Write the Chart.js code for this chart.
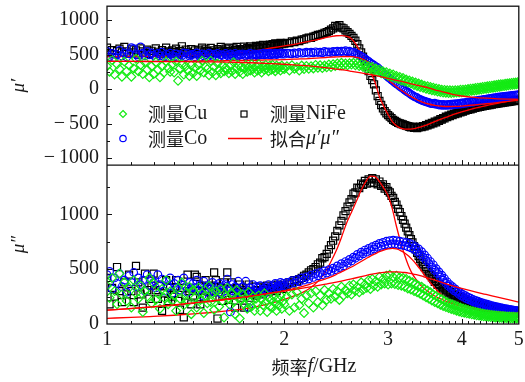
<!DOCTYPE html>
<html>
<head>
<meta charset="utf-8">
<script src="https://cdn.jsdelivr.net/npm/chart.js@4.4.0/dist/chart.umd.min.js"></script>
<style>
  html, body { margin: 0; padding: 0; background: #fff; }
  #caixa { position: relative; width: 525px; height: 382px; }
</style>
</head>
<body>
<div id="caixa"><canvas id="grafico" width="525" height="382"></canvas></div>
<script>
'use strict';

// frequencias medidas (GHz)
const frequencia = [
  1.00, 1.01, 1.02, 1.03, 1.04, 1.05, 1.06, 1.07, 1.08, 1.09,
  1.10, 1.11, 1.12, 1.13, 1.14, 1.15, 1.16, 1.17, 1.18, 1.19,
  1.20, 1.21, 1.22, 1.23, 1.24, 1.25, 1.26, 1.27, 1.28, 1.29,
  1.30, 1.31, 1.32, 1.33, 1.34, 1.35, 1.36, 1.37, 1.38, 1.39,
  1.40, 1.41, 1.42, 1.43, 1.44, 1.45, 1.46, 1.47, 1.48, 1.49,
  1.50, 1.51, 1.52, 1.53, 1.54, 1.55, 1.56, 1.57, 1.58, 1.59,
  1.60, 1.61, 1.62, 1.63, 1.64, 1.65, 1.66, 1.67, 1.68, 1.69,
  1.70, 1.71, 1.72, 1.73, 1.74, 1.75, 1.76, 1.77, 1.78, 1.79,
  1.80, 1.81, 1.82, 1.83, 1.84, 1.85, 1.86, 1.87, 1.88, 1.89,
  1.90, 1.91, 1.92, 1.93, 1.94, 1.95, 1.96, 1.97, 1.98, 1.99,
  2.00, 2.02, 2.04, 2.06, 2.08, 2.10, 2.12, 2.14, 2.16, 2.18,
  2.20, 2.22, 2.24, 2.26, 2.28, 2.30, 2.32, 2.34, 2.36, 2.38,
  2.40, 2.42, 2.44, 2.46, 2.48, 2.50, 2.52, 2.54, 2.56, 2.58,
  2.60, 2.62, 2.64, 2.66, 2.68, 2.70, 2.72, 2.74, 2.76, 2.78,
  2.80, 2.82, 2.84, 2.86, 2.88, 2.90, 2.92, 2.94, 2.96, 2.98,
  3.00, 3.02, 3.04, 3.06, 3.08, 3.10, 3.12, 3.14, 3.16, 3.18,
  3.20, 3.22, 3.24, 3.26, 3.28, 3.30, 3.32, 3.34, 3.36, 3.38,
  3.40, 3.42, 3.44, 3.46, 3.48, 3.50, 3.52, 3.54, 3.56, 3.58,
  3.60, 3.62, 3.64, 3.66, 3.68, 3.70, 3.72, 3.74, 3.76, 3.78,
  3.80, 3.82, 3.84, 3.86, 3.88, 3.90, 3.92, 3.94, 3.96, 3.98,
  4.00, 4.02, 4.04, 4.06, 4.08, 4.10, 4.12, 4.14, 4.16, 4.18,
  4.20, 4.22, 4.24, 4.26, 4.28, 4.30, 4.32, 4.34, 4.36, 4.38,
  4.40, 4.42, 4.44, 4.46, 4.48, 4.50, 4.52, 4.54, 4.56, 4.58,
  4.60, 4.62, 4.64, 4.66, 4.68, 4.70, 4.72, 4.74, 4.76, 4.78,
  4.80, 4.82, 4.84, 4.86, 4.88, 4.90, 4.92, 4.94, 4.96, 4.98,
  5.00
];

// mu' medido
const niFeReal = [
  600, 520, 565, 505, 550, 585, 530, 610, 545, 515,
  575, 530, 560, 500, 590, 545, 525, 570, 510, 555,
  520, 590, 540, 505, 565, 530, 600, 545, 515, 560,
  535, 585, 515, 550, 620, 525, 570, 540, 505, 580,
  525, 560, 505, 570, 545, 600, 530, 575, 550, 520,
  595, 535, 560, 520, 580, 545, 610, 560, 530, 585,
  550, 600, 555, 530, 590, 565, 610, 545, 580, 560,
  575, 615, 560, 595, 580, 620, 570, 600, 585, 625,
  610, 585, 630, 600, 640, 615, 595, 635, 620, 645,
  625, 650, 630, 660, 640, 655, 635, 670, 650, 665,
  660, 670, 665, 690, 680, 700, 695, 715, 720, 735,
  745, 740, 760, 770, 785, 790, 800, 815, 825, 840,
  860, 880, 915, 905, 925, 890, 880, 850, 825, 800,
  770, 740, 700, 650, 590, 530, 470, 400, 330, 260,
  190, 130, 70, -20, -100, -170, -230, -280, -320, -350,
  -375, -400, -420, -445, -460, -475, -488, -495, -505, -512,
  -520, -530, -535, -545, -555, -545, -560, -550, -565, -555,
  -545, -550, -535, -540, -520, -525, -505, -510, -490, -495,
  -470, -480, -455, -460, -435, -440, -420, -425, -400, -405,
  -385, -390, -370, -375, -355, -362, -342, -350, -330, -338,
  -318, -325, -305, -312, -295, -302, -285, -292, -276, -282,
  -266, -272, -258, -264, -250, -256, -244, -250, -238, -244,
  -230, -236, -224, -230, -218, -224, -212, -218, -207, -213,
  -202, -207, -197, -202, -192, -197, -187, -192, -183, -188,
  -178, -183, -174, -179, -170, -175, -166, -171, -162, -167,
  -160
];
const coReal = [
  545, 470, 515, 455, 500, 560, 480, 525, 465, 510,
  600, 585, 500, 470, 610, 520, 480, 545, 495, 525,
  490, 455, 515, 480, 535, 470, 505, 460, 520, 485,
  470, 510, 460, 500, 485, 525, 470, 515, 480, 495,
  505, 470, 525, 490, 460, 510, 480, 500, 470, 520,
  500, 475, 505, 480, 515, 470, 500, 490, 465, 515,
  490, 475, 510, 485, 470, 515, 490, 480, 505, 495,
  510, 490, 480, 505, 495, 520, 485, 500, 510, 495,
  480, 510, 495, 500, 520, 495, 505, 515, 500, 520,
  495, 510, 505, 520, 500, 515, 510, 525, 505, 520,
  505, 520, 515, 510, 525, 515, 530, 520, 525, 535,
  520, 535, 525, 540, 530, 535, 525, 545, 535, 540,
  530, 545, 540, 550, 535, 550, 545, 555, 540, 550,
  530, 535, 515, 505, 490, 475, 460, 440, 420, 400,
  380, 360, 345, 325, 310, 285, 260, 240, 220, 195,
  175, 155, 135, 115, 95, 75, 60, 40, 25, 5,
  -10, -30, -45, -60, -75, -90, -105, -115, -125, -140,
  -150, -160, -170, -175, -185, -190, -195, -205, -210, -212,
  -205, -222, -215, -230, -220, -235, -222, -236, -224, -234,
  -222, -232, -218, -230, -214, -226, -210, -222, -206, -216,
  -200, -212, -196, -206, -190, -200, -184, -194, -178, -188,
  -172, -182, -166, -176, -160, -170, -155, -164, -150, -158,
  -144, -152, -138, -147, -133, -141, -128, -136, -123, -131,
  -118, -126, -113, -121, -109, -117, -105, -112, -101, -108,
  -97, -104, -93, -100, -90, -96, -86, -93, -83, -89,
  -80
];
const cuReal = [
  330, 250, 420, 210, 360, 290, 180, 400, 260, 340,
  180, 300, 440, 260, 350, 220, 390, 280, 170, 330,
  220, 390, 280, 170, 330, 240, 400, 310, 250, 360,
  240, 400, 120, 300, 360, 210, 330, 270, 190, 350,
  230, 310, 190, 350, 270, 410, 240, 320, 290, 200,
  410, 240, 320, 200, 370, 280, 230, 340, 260, 310,
  280, 230, 340, 260, 390, 220, 300, 350, 250, 320,
  220, 300, 350, 250, 320, 270, 360, 290, 240, 330,
  270, 360, 290, 240, 330, 280, 350, 300, 260, 340,
  280, 350, 300, 260, 340, 290, 320, 270, 340, 300,
  290, 330, 270, 345, 295, 320, 270, 340, 290, 335,
  295, 330, 300, 350, 310, 345, 305, 340, 315, 355,
  320, 360, 335, 370, 345, 380, 350, 370, 345, 375,
  355, 380, 345, 375, 335, 365, 320, 350, 300, 330,
  290, 320, 270, 300, 250, 280, 230, 260, 215, 245,
  195, 225, 180, 210, 160, 190, 145, 175, 125, 160,
  110, 140, 95, 125, 80, 110, 60, 95, 45, 80,
  30, 65, 20, 50, 5, 40, -5, 30, -15, 20,
  -25, 10, -35, 0, -42, -8, -48, -12, -52, -15,
  -55, -18, -55, -20, -52, -18, -50, -15, -48, -10,
  -45, -8, -40, -5, -35, 0, -30, 5, -25, 10,
  -20, 15, -15, 20, -10, 25, -5, 30, 0, 35,
  5, 40, 10, 45, 15, 50, 20, 55, 25, 60,
  30, 65, 35, 70, 40, 72, 45, 76, 50, 80,
  54, 84, 58, 88, 62, 92, 66, 95, 70, 98,
  75
];

// mu'' medido
const niFeImag = [
  420, 180, 330, 250, 520, 300, 200, 380, 270, 450,
  300, 200, 530, 380, 270, 150, 460, 310, 230, 350,
  460, 310, 230, 350, 120, 280, 400, 210, 330, 250,
  280, 400, 210, 130, 330, 60, 260, 450, 300, 180,
  260, 450, 430, 300, 180, 350, 240, 400, 320, 290,
  350, 240, 470, 400, 50, 290, 330, 210, 380, 260,
  470, 220, 320, 380, 260, 150, 330, 290, 360, 240,
  310, 150, 330, 290, 360, 240, 280, 340, 300, 260,
  310, 280, 340, 300, 270, 330, 310, 350, 290, 320,
  330, 310, 350, 320, 300, 360, 330, 340, 350, 320,
  340, 360, 380, 370, 400, 390, 410, 420, 440, 450,
  470, 490, 500, 520, 545, 560, 600, 610, 640, 680,
  720, 760, 800, 850, 900, 940, 990, 1030, 1070, 1110,
  1140, 1190, 1200, 1245, 1240, 1280, 1270, 1305, 1280, 1320,
  1290, 1330, 1285, 1320, 1275, 1300, 1260, 1275, 1235, 1250,
  1215, 1200, 1170, 1150, 1115, 1090, 1050, 1020, 985, 950,
  915, 880, 845, 810, 775, 745, 710, 680, 650, 620,
  595, 570, 545, 520, 500, 480, 460, 445, 425, 410,
  385, 392, 358, 365, 335, 344, 315, 325, 297, 308,
  280, 292, 266, 278, 252, 265, 240, 254, 228, 243,
  218, 234, 208, 224, 200, 215, 191, 208, 184, 200,
  176, 193, 170, 186, 163, 180, 157, 174, 151, 168,
  146, 163, 141, 158, 136, 153, 131, 149, 127, 145,
  123, 141, 119, 137, 115, 134, 112, 131, 109, 128,
  106, 125, 103, 122, 100, 120, 98, 117, 96, 114,
  100
];
const coImag = [
  450, 480, 320, 420, 370, 460, 340, 400, 290, 440,
  380, 470, 340, 420, 360, 400, 300, 450, 350, 410,
  380, 330, 450, 360, 410, 300, 390, 350, 420, 280,
  370, 330, 400, 310, 360, 420, 340, 290, 380, 330,
  370, 330, 400, 310, 360, 260, 390, 320, 350, 290,
  330, 380, 290, 350, 310, 370, 280, 340, 300, 360,
  410, 330, 110, 360, 300, 340, 280, 390, 310, 270,
  340, 280, 390, 310, 150, 330, 290, 360, 300, 340,
  330, 290, 350, 300, 320, 280, 340, 310, 360, 330,
  310, 350, 320, 370, 330, 350, 340, 380, 350, 370,
  350, 380, 365, 395, 375, 405, 385, 420, 400, 430,
  410, 445, 425, 460, 440, 470, 450, 485, 465, 495,
  480, 510, 495, 530, 515, 550, 530, 570, 555, 590,
  575, 610, 600, 635, 620, 655, 640, 675, 655, 690,
  670, 705, 685, 720, 700, 735, 710, 745, 720, 755,
  725, 760, 730, 765, 730, 760, 725, 755, 720, 750,
  715, 745, 705, 735, 695, 725, 680, 705, 660, 685,
  635, 660, 610, 630, 580, 600, 550, 570, 520, 540,
  490, 505, 460, 475, 430, 445, 400, 415, 370, 385,
  345, 360, 325, 340, 305, 320, 290, 300, 270, 285,
  255, 270, 242, 258, 230, 246, 220, 235, 210, 225,
  200, 216, 192, 208, 185, 200, 178, 193, 172, 186,
  165, 180, 160, 174, 154, 168, 149, 163, 144, 158,
  140, 153, 136, 149, 132, 145, 128, 141, 124, 137,
  121, 133, 118, 130, 115, 127, 112, 124, 110, 121,
  110
];
const cuImag = [
  350, 240, 420, 300, 180, 460, 270, 380, 210, 330,
  150, 400, 280, 230, 350, 110, 300, 250, 420, 190,
  370, 220, 280, 140, 320, 240, 400, 180, 300, 210,
  260, 120, 330, 230, 380, 170, 280, 200, 340, 90,
  310, 240, 150, 330, 220, 280, 100, 260, 190, 350,
  200, 280, 130, 300, 240, 160, 320, 210, 60, 250,
  330, 230, 170, 280, 200, 90, 310, 240, 50, 220,
  270, 180, 240, 140, 290, 200, 160, 250, 120, 230,
  180, 260, 120, 230, 170, 280, 200, 110, 240, 160,
  220, 150, 250, 190, 120, 230, 170, 260, 140, 210,
  180, 250, 120, 270, 150, 290, 170, 230, 100, 260,
  190, 280, 150, 300, 200, 260, 170, 310, 220, 280,
  230, 320, 250, 300, 220, 340, 260, 310, 280, 350,
  270, 360, 300, 340, 290, 380, 310, 360, 330, 400,
  320, 410, 350, 390, 340, 430, 360, 410, 370, 440,
  360, 450, 370, 430, 365, 440, 355, 425, 350, 420,
  340, 410, 325, 395, 315, 380, 300, 365, 290, 350,
  275, 340, 260, 320, 245, 305, 230, 290, 215, 270,
  200, 255, 190, 240, 175, 225, 165, 210, 155, 198,
  145, 188, 138, 178, 130, 168, 122, 160, 115, 150,
  108, 142, 103, 135, 98, 128, 93, 122, 88, 116,
  84, 110, 80, 105, 77, 100, 74, 96, 71, 92,
  68, 88, 66, 85, 64, 82, 62, 80, 60, 78,
  58, 76, 57, 74, 56, 72, 55, 70, 54, 69,
  53, 68, 52, 67, 52, 66, 51, 65, 51, 64,
  58
];

// curvas de ajuste
const frequenciaAjuste = [
  1.0, 1.1, 1.2, 1.3, 1.4, 1.5, 1.6, 1.7, 1.8, 1.9,
  2.0, 2.1, 2.2, 2.3, 2.35, 2.4, 2.45, 2.5, 2.55, 2.6,
  2.65, 2.7, 2.75, 2.8, 2.85, 2.9, 2.95, 3.0, 3.05, 3.1,
  3.15, 3.2, 3.25, 3.3, 3.35, 3.4, 3.45, 3.5, 3.6, 3.7,
  3.8, 3.9, 4.0, 4.2, 4.4, 4.6, 4.8, 5.0
];
const ajusteNiFeReal = [
  470, 472, 475, 480, 487, 497, 511, 532, 560, 595,
  625, 655, 690, 725, 745, 760, 772, 775, 765, 730,
  640, 520, 400, 250, 100, -110, -250, -370, -470, -530,
  -565, -578, -580, -575, -565, -550, -533, -515, -470, -430,
  -395, -360, -330, -280, -240, -205, -172, -145
];
const ajusteCoReal = [
  400, 401, 402, 404, 406, 408, 411, 414, 418, 423,
  428, 435, 442, 452, 457, 462, 466, 470, 472, 470,
  460, 440, 410, 370, 320, 260, 200, 140, 85, 35,
  -10, -50, -90, -120, -150, -175, -195, -212, -235, -248,
  -252, -250, -245, -230, -212, -195, -178, -160
];
const ajusteCuReal = [
  400, 400, 399, 398, 396, 394, 390, 385, 378, 370,
  360, 348, 335, 318, 310, 300, 290, 280, 270, 258,
  246, 234, 222, 210, 197, 184, 170, 156, 142, 128,
  114, 100, 86, 72, 59, 46, 34, 22, -10, -35,
  -60, -85, -100, -120, -132, -140, -145, -148
];
const ajusteNiFeImag = [
  52, 60, 70, 80, 92, 105, 120, 135, 160, 190,
  225, 265, 320, 410, 480, 570, 670, 790, 920, 1020,
  1120, 1220, 1300, 1350, 1345, 1300, 1240, 1170, 1050, 890,
  750, 630, 530, 455, 405, 360, 325, 300, 255, 225,
  200, 180, 165, 145, 130, 118, 108, 100
];
const ajusteCoImag = [
  127, 140, 155, 170, 188, 205, 222, 240, 260, 282,
  305, 330, 360, 395, 412, 430, 452, 475, 497, 520,
  545, 570, 595, 620, 640, 660, 675, 685, 690, 685,
  670, 648, 620, 585, 545, 500, 455, 410, 330, 265,
  215, 180, 160, 135, 120, 110, 102, 96
];
const ajusteCuImag = [
  127, 142, 158, 175, 193, 210, 228, 246, 264, 283,
  300, 318, 336, 354, 363, 372, 382, 392, 402, 412,
  422, 432, 442, 452, 460, 467, 472, 475, 476, 476,
  474, 470, 465, 458, 450, 441, 431, 421, 400, 380,
  360, 342, 325, 295, 270, 245, 222, 200
];

const ticksX = [1, 2, 3, 4, 5];
const ticksTopo = [-1000, -500, 0, 500, 1000];
const ticksBaixo = [0, 500, 1000];

const VERDE = 'rgb(20,235,20)';
const AZUL = 'rgb(0,0,255)';
const PRETO = 'rgb(0,0,0)';
const VERMELHO = 'rgb(255,0,0)';
const TEXTO = '#1a1a1a';
const SERIF = '"Liberation Serif", "DejaVu Serif", serif';
const CJK = '"Noto Sans CJK SC", sans-serif';

function pontos(xs, ys) {
    return xs.map((x, i) => ({ x: x, y: ys[i] }));
}

function formataNumero(v) {
    return v < 0 ? '\u2212\u2009' + Math.abs(v) : String(v);
}

function medido(dados, eixo, cor, estilo, raio, ordem) {
    return {
        data: pontos(frequencia, dados),
        yAxisID: eixo,
        showLine: false,
        pointStyle: estilo,
        pointRadius: raio,
        pointBorderColor: cor,
        pointBackgroundColor: 'rgba(0,0,0,0)',
        pointBorderWidth: 1.2,
        order: ordem
    };
}

function ajuste(dados, eixo, ordem) {
    return {
        data: pontos(frequenciaAjuste, dados),
        yAxisID: eixo,
        showLine: true,
        borderColor: VERMELHO,
        borderWidth: 1.3,
        pointRadius: 0,
        cubicInterpolationMode: 'monotone',
        order: ordem
    };
}

//========================================================================================
// marcas internas, moldura e textos
const moldura = {
    id: 'moldura',
    afterDraw(chart) {
        const ctx = chart.ctx;
        const area = chart.chartArea;
        const x = chart.scales.x;
        const yTopo = chart.scales.yTopo;
        const yBaixo = chart.scales.yBaixo;
        ctx.save();
        ctx.strokeStyle = '#111';
        ctx.lineWidth = 1;
        ctx.beginPath();
        // x: maiores nos inteiros, menores a cada 0.1 GHz
        [yTopo.bottom, yBaixo.bottom].forEach(base => {
            for (let k = 11; k < 50; k++) {
                const v = k / 10;
                const px = Math.round(x.getPixelForValue(v)) + 0.5;
                const len = (k % 10 === 0) ? 5 : 3;
                ctx.moveTo(px, base);
                ctx.lineTo(px, base - len);
            }
        });
        // y
        const esq = area.left;
        for (let v = -1000; v <= 1000; v += 250) {
            const py = Math.round(yTopo.getPixelForValue(v)) + 0.5;
            ctx.moveTo(esq, py);
            ctx.lineTo(esq + (v % 500 === 0 ? 5 : 3), py);
        }
        for (let v = 250; v <= 1250; v += 250) {
            const py = Math.round(yBaixo.getPixelForValue(v)) + 0.5;
            ctx.moveTo(esq, py);
            ctx.lineTo(esq + (v % 500 === 0 ? 5 : 3), py);
        }
        ctx.stroke();

        ctx.lineWidth = 1.3;
        ctx.strokeRect(area.left, area.top, area.right - area.left, area.bottom - area.top);
        ctx.beginPath();
        ctx.moveTo(area.left, yTopo.bottom);
        ctx.lineTo(area.right, yTopo.bottom);
        ctx.stroke();
        ctx.restore();
    }
};

function escreveTrechos(ctx, trechos, x, y, alinhamento) {
    let total = 0;
    trechos.forEach(t => { ctx.font = t[1]; total += ctx.measureText(t[0]).width; });
    let cx = alinhamento === 'center' ? x - total / 2 : x;
    ctx.textAlign = 'left';
    trechos.forEach(t => {
        ctx.font = t[1];
        ctx.fillText(t[0], cx, y);
        cx += ctx.measureText(t[0]).width;
    });
}

const textos = {
    id: 'textos',
    afterDraw(chart) {
        const ctx = chart.ctx;
        ctx.save();
        ctx.fillStyle = TEXTO;
        ctx.textBaseline = 'middle';

        // titulo do eixo x
        escreveTrechos(ctx, [
            ['频率', '18px ' + CJK],
            ['f', 'italic 20px ' + SERIF],
            ['/GHz', '20px ' + SERIF]
        ], 314, 367, 'center');

        // legenda
        ctx.lineWidth = 1.2;
        ctx.strokeStyle = VERDE;
        ctx.beginPath();
        ctx.moveTo(123, 110.5); ctx.lineTo(126.5, 114); ctx.lineTo(123, 117.5); ctx.lineTo(119.5, 114);
        ctx.closePath();
        ctx.stroke();

        ctx.strokeStyle = AZUL;
        ctx.beginPath();
        ctx.arc(123, 138.5, 3.2, 0, Math.PI * 2);
        ctx.stroke();

        ctx.strokeStyle = PRETO;
        ctx.strokeRect(241, 111, 6, 6);

        ctx.strokeStyle = VERMELHO;
        ctx.lineWidth = 1.4;
        ctx.beginPath();
        ctx.moveTo(228, 138.5); ctx.lineTo(262, 138.5);
        ctx.stroke();

        escreveTrechos(ctx, [['测量', '18px ' + CJK], ['Cu', '20px ' + SERIF]], 148, 114, 'left');
        escreveTrechos(ctx, [['测量', '18px ' + CJK], ['Co', '20px ' + SERIF]], 148, 139, 'left');
        escreveTrechos(ctx, [['测量', '18px ' + CJK], ['NiFe', '20px ' + SERIF]], 270, 114, 'left');
        escreveTrechos(ctx, [['拟合', '18px ' + CJK], ['\u03bc\u2032\u03bc\u2033', 'italic 20px ' + SERIF]], 270, 139, 'left');
        ctx.restore();
    }
};
//========================================================================================

const fonteTicks = { family: SERIF, size: 20 };

// ordem de desenho (de baixo para cima): NiFe, ajuste NiFe, Co, ajuste Co, Cu, ajuste Cu
const graficoMu = new Chart(document.getElementById('grafico'), {
    type: 'scatter',
    data: {
        datasets: [
            ajuste(ajusteCuReal, 'yTopo', 0),
            medido(cuReal, 'yTopo', VERDE, 'rectRot', 4.4, 1),
            ajuste(ajusteCoReal, 'yTopo', 2),
            medido(coReal, 'yTopo', AZUL, 'circle', 3.8, 3),
            ajuste(ajusteNiFeReal, 'yTopo', 4),
            medido(niFeReal, 'yTopo', PRETO, 'rect', 5, 5),
            ajuste(ajusteCuImag, 'yBaixo', 0),
            medido(cuImag, 'yBaixo', VERDE, 'rectRot', 4.4, 1),
            ajuste(ajusteCoImag, 'yBaixo', 2),
            medido(coImag, 'yBaixo', AZUL, 'circle', 3.8, 3),
            ajuste(ajusteNiFeImag, 'yBaixo', 4),
            medido(niFeImag, 'yBaixo', PRETO, 'rect', 5, 5)
        ]
    },
    options: {
        responsive: false,
        animation: false,
        devicePixelRatio: 1,
        events: [],
        layout: { padding: { top: 5, right: 3, left: 0, bottom: 0 } },
        plugins: { legend: { display: false }, tooltip: { enabled: false } },
        scales: {
            x: {
                type: 'logarithmic',
                min: 1,
                max: 5,
                afterBuildTicks: s => { s.ticks = ticksX.map(v => ({ value: v })); },
                afterFit: s => { s.height = 58; s.paddingLeft = 0; s.paddingRight = 0; },
                ticks: { callback: v => String(v), font: fonteTicks, color: TEXTO, padding: 4, maxRotation: 0, autoSkip: false },
                grid: { drawOnChartArea: false, drawTicks: false },
                border: { display: false }
            },
            yBaixo: {
                type: 'linear',
                position: 'left',
                stack: 'paineis',
                stackWeight: 1,
                min: 0,
                max: 1450,
                afterBuildTicks: s => { s.ticks = ticksBaixo.map(v => ({ value: v })); },
                afterFit: s => { s.width = 107; s.paddingTop = 0; s.paddingBottom = 0; },
                ticks: { callback: v => formataNumero(v), font: fonteTicks, color: TEXTO, padding: 8, autoSkip: false },
                grid: { drawOnChartArea: false, drawTicks: false },
                border: { display: false },
                title: { display: true, text: '\u03bc\u2033', font: { family: SERIF, size: 19, style: 'italic' }, color: TEXTO, padding: { top: 8, bottom: 0 } }
            },
            yTopo: {
                type: 'linear',
                position: 'left',
                stack: 'paineis',
                stackWeight: 1,
                min: -1100,
                max: 1200,
                afterBuildTicks: s => { s.ticks = ticksTopo.map(v => ({ value: v })); },
                afterFit: s => { s.width = 107; s.paddingTop = 0; s.paddingBottom = 0; },
                ticks: { callback: v => formataNumero(v), font: fonteTicks, color: TEXTO, padding: 8, autoSkip: false },
                grid: { drawOnChartArea: false, drawTicks: false },
                border: { display: false },
                title: { display: true, text: '\u03bc\u2032', font: { family: SERIF, size: 19, style: 'italic' }, color: TEXTO, padding: { top: 8, bottom: 0 } }
            }
        }
    },
    plugins: [moldura, textos]
});
</script>
</body>
</html>
